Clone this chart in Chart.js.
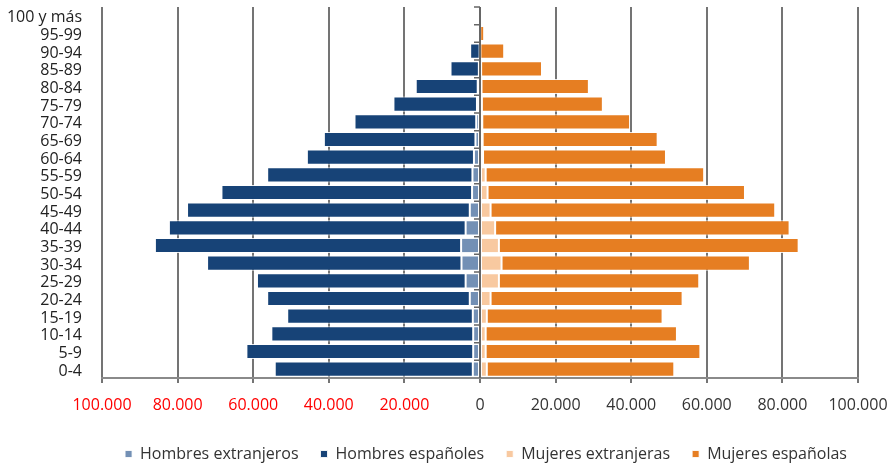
<!DOCTYPE html>
<html>
<head>
<meta charset="utf-8">
<script src="https://cdn.jsdelivr.net/npm/chart.js@4/dist/chart.umd.min.js"></script>
<style>
html,body{margin:0;padding:0;background:#fff;}
#wrap{width:894px;height:465px;position:relative;}
</style>
</head>
<body>
<div id="wrap"><canvas id="c"></canvas></div>
<script>
const ageGroups = ["100 y más","95-99","90-94","85-89","80-84","75-79","70-74","65-69","60-64","55-59","50-54","45-49","40-44","35-39","30-34","25-29","20-24","15-19","10-14","5-9","0-4"];
const hombresExtranjeros = [0, 30, 100, 300, 600, 800, 1000, 1200, 1600, 2000, 2100, 2700, 3800, 5000, 4900, 3800, 2700, 1900, 1800, 1800, 1900];
const hombresEspanoles = [50, 200, 2500, 7500, 16400, 22100, 32200, 40100, 44200, 54300, 66300, 74800, 78500, 81000, 67300, 55200, 53600, 49100, 53400, 60000, 52400];
const mujeresExtranjeras = [0, 50, 100, 300, 400, 500, 600, 700, 800, 1500, 2000, 2800, 4000, 5000, 5700, 5000, 2800, 1800, 1500, 1500, 1800];
const mujeresEspanolas = [150, 1050, 6300, 16100, 28400, 32000, 39100, 46300, 48400, 57800, 68100, 75300, 77900, 79300, 65700, 53000, 50800, 46500, 50600, 56800, 49600];
const xTicksMin = -100000, xTicksMax = 100000, xTickStep = 20000;

const fmt = v => String(Math.abs(v)).replace(/\B(?=(\d{3})+(?!\d))/g, '.');
const FONT = "'Open Sans', 'Liberation Sans', sans-serif";

// central category axis at x = 0, with its tick marks pointing left
const zeroAxis = {
  id: 'zeroAxis',
  afterDatasetsDraw(chart) {
    const ctx = chart.ctx, xs = chart.scales.x, ys = chart.scales.y;
    const px = Math.round(xs.getPixelForValue(0));
    const n = ys.ticks.length;
    const top = ys.top, bottom = ys.bottom, step = (bottom - top) / n;
    ctx.save();
    ctx.strokeStyle = '#666';
    ctx.lineWidth = 2;
    ctx.beginPath();
    ctx.moveTo(px, top); ctx.lineTo(px, bottom);
    ctx.stroke();
    ctx.lineWidth = 1.5;
    ctx.beginPath();
    for (let k = 0; k < n; k++) {
      const yy = top + k * step;
      ctx.moveTo(px - 6, yy); ctx.lineTo(px, yy);
    }
    ctx.stroke();
    ctx.restore();
  }
};

// nudge the (single-row) legend to sit under the plot as in the original
const legendShift = {
  id: 'legendShift',
  afterLayout(chart) {
    const l = chart.legend;
    if (l) { l.left += 57; l.right += 57; }
  }
};

new Chart(document.getElementById('c'), {
  type: 'bar',
  data: {
    labels: ageGroups,
    datasets: [
      { label: 'Hombres extranjeros', data: hombresExtranjeros.map(v => -v), backgroundColor: '#7390b5' },
      { label: 'Hombres españoles', data: hombresEspanoles.map(v => -v), backgroundColor: '#174377' },
      { label: 'Mujeres extranjeras', data: mujeresExtranjeras, backgroundColor: '#f8c9a0' },
      { label: 'Mujeres españolas', data: mujeresEspanolas, backgroundColor: '#e67e22' }
    ]
  },
  plugins: [zeroAxis, legendShift],
  options: {
    indexAxis: 'y',
    responsive: true,
    maintainAspectRatio: false,
    animation: false,
    layout: { padding: { left: 0, right: 36, top: 7, bottom: 0 } },
    datasets: { bar: { barPercentage: 0.86, categoryPercentage: 1.0, borderWidth: 1, borderColor: 'rgba(255,255,255,0.85)', borderSkipped: false } },
    plugins: {
      tooltip: { enabled: false },
      legend: {
        position: 'bottom',
        maxHeight: 41,
        labels: {
          boxWidth: 7, boxHeight: 7, padding: 22,
          color: '#333',
          font: { family: FONT, size: 16 }
        }
      }
    },
    scales: {
      x: {
        type: 'linear',
        stacked: true,
        min: xTicksMin, max: xTicksMax,
        ticks: {
          stepSize: xTickStep,
          padding: 13,
          maxRotation: 0,
          callback: v => fmt(v),
          color: ctx => (ctx.tick && ctx.tick.value < 0) ? '#ff0000' : '#333333',
          font: { family: FONT, size: 16 }
        },
        grid: { color: '#747474', lineWidth: 2, tickLength: 5, tickColor: '#747474', drawTicks: true },
        border: { display: true, color: '#8a8a8a', width: 2 },
        afterFit: s => { s.height = 46; s.paddingLeft = 0; s.paddingRight = 0; }
      },
      y: {
        type: 'category',
        stacked: true,
        position: 'left',
        ticks: { color: '#222', padding: 0, labelOffset: 2, autoSkip: false, font: { family: FONT, size: 16 } },
        grid: { display: true, drawOnChartArea: false, drawTicks: true, tickLength: 20, tickColor: 'rgba(0,0,0,0)' },
        border: { display: false },
        afterFit: s => { s.width = 102; s.paddingTop = 0; s.paddingBottom = 0; }
      }
    }
  }
});
</script>
</body>
</html>
